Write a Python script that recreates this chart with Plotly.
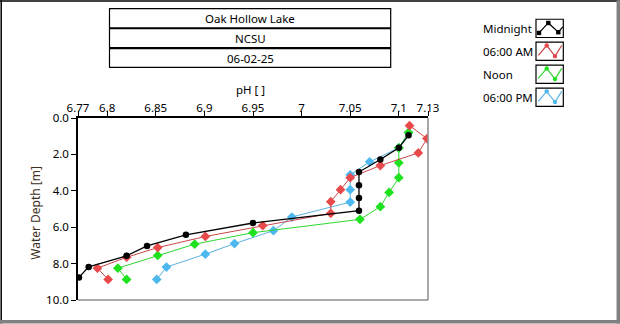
import plotly.graph_objects as go

# pH profiles by depth, one list per sampling time
midnight_ph = [7.110, 7.100, 7.081, 7.059, 7.059, 7.059, 7.059, 6.950, 6.881, 6.841, 6.820, 6.781, 6.771]
midnight_depth = [0.95, 1.64, 2.28, 2.97, 3.69, 4.40, 5.09, 5.77, 6.42, 7.03, 7.57, 8.18, 8.76]

am6_ph = [7.111, 7.129, 7.120, 7.081, 7.050, 7.040, 7.030, 7.030, 6.960, 6.901, 6.852, 6.820, 6.790, 6.801]
am6_depth = [0.42, 1.13, 1.92, 2.61, 3.28, 3.94, 4.60, 5.24, 5.91, 6.51, 7.12, 7.65, 8.25, 8.87]

noon_ph = [7.110, 7.100, 7.100, 7.100, 7.090, 7.081, 7.060, 6.950, 6.890, 6.852, 6.811, 6.820]
noon_depth = [0.80, 1.64, 2.46, 3.28, 4.09, 4.87, 5.57, 6.30, 6.93, 7.55, 8.25, 8.87]

pm6_ph = [7.110, 7.100, 7.070, 7.050, 7.050, 7.050, 6.990, 6.971, 6.931, 6.901, 6.861, 6.851]
pm6_depth = [0.80, 1.64, 2.41, 3.12, 3.94, 4.62, 5.44, 6.19, 6.90, 7.48, 8.19, 8.87]

x_ticks = [6.77, 6.8, 6.85, 6.9, 6.95, 7.0, 7.05, 7.1, 7.13]
x_tick_text = ["6.77", "6.8", "6.85", "6.9", "6.95", "7", "7.05", "7.1", "7.13"]
y_ticks = [0, 2, 4, 6, 8, 10]

title_rows = ["Oak Hollow Lake", "NCSU", "06-02-25"]
series_names = ["Midnight", "06:00 AM", "Noon", "06:00 PM"]

FONT = "Noto Sans"
FS = 11.5
W, H = 620, 324
PL, PR, PT, PB = 78, 428, 118, 300.5  # plot box in pixels

RED_LINE, RED_MK = "#c9474a", "#e8494b"
GRN_LINE, GRN_MK = "#2fd62f", "#1ee21e"
BLU_LINE, BLU_MK = "#5ab3e2", "#4db8ee"

series = [
    (series_names[0], midnight_ph, midnight_depth, "black", "black", "circle", 6.5, 1.3),
    (series_names[1], am6_ph, am6_depth, RED_LINE, RED_MK, "diamond", 7.5, 1),
    (series_names[2], noon_ph, noon_depth, GRN_LINE, GRN_MK, "diamond", 7.5, 1),
    (series_names[3], pm6_ph, pm6_depth, BLU_LINE, BLU_MK, "diamond", 7.5, 1),
]

fig = go.Figure()
for name, xs, ys, lc, mc, sym, ms, lw in reversed(series):
    fig.add_trace(go.Scatter(
        x=xs, y=ys, name=name, mode="lines+markers",
        line=dict(color=lc, width=lw),
        marker=dict(color=mc, symbol=sym, size=ms, line=dict(width=0)),
        showlegend=False, hoverinfo="x+y+name",
    ))


def px(x):
    return (x - PL) / (PR - PL)


def py(y):
    return (PB - y) / (PB - PT)


shapes = []
annotations = []

# plot frame: dark top/left, grey bottom/right
shapes.append(dict(type="line", xref="paper", yref="paper", x0=px(PR), x1=px(PR), y0=py(PT), y1=py(PB),
                   line=dict(color="#8c8c8c", width=1.5)))
shapes.append(dict(type="line", xref="paper", yref="paper", x0=px(PL), x1=px(PR), y0=py(PB), y1=py(PB),
                   line=dict(color="#8c8c8c", width=1.5)))

# window border
shapes.append(dict(type="line", xref="paper", yref="paper", x0=px(0), x1=px(W), y0=py(0.7), y1=py(0.7),
                   line=dict(color="black", width=1.5)))
shapes.append(dict(type="line", xref="paper", yref="paper", x0=px(1.2), x1=px(1.2), y0=py(0), y1=py(H),
                   line=dict(color="black", width=1.5)))
shapes.append(dict(type="line", xref="paper", yref="paper", x0=px(618.3), x1=px(618.3), y0=py(0), y1=py(H),
                   line=dict(color="#808080", width=3.5)))
shapes.append(dict(type="line", xref="paper", yref="paper", x0=px(0), x1=px(W), y0=py(322.3), y1=py(322.3),
                   line=dict(color="#808080", width=3.5)))

# title table
tx0, tx1, ty0, ty1 = 109.5, 390.7, 8.3, 67.3
shapes.append(dict(type="rect", xref="paper", yref="paper", x0=px(tx0), x1=px(tx1), y0=py(ty0), y1=py(ty1),
                   line=dict(color="black", width=1.2)))
for yy in (28, 48):
    shapes.append(dict(type="line", xref="paper", yref="paper", x0=px(tx0), x1=px(tx1), y0=py(yy), y1=py(yy),
                       line=dict(color="black", width=2.2)))
for i, txt in enumerate(title_rows):
    annotations.append(dict(text=txt, xref="paper", yref="paper", x=px(250), y=py(18.3 + 20 * i),
                            showarrow=False, xanchor="center", yanchor="middle",
                            font=dict(family=FONT, size=FS, color="black")))

# custom legend: label on the left, boxed glyph on the right
leg_styles = [("black", "black", "square"), (RED_LINE, RED_MK, "dot"),
              (GRN_LINE, GRN_MK, "dot"), (BLU_LINE, BLU_MK, "dot")]
for i, (name, (lc, mc, kind)) in enumerate(zip(series_names, leg_styles)):
    dy = 23 * i
    top = 19 + dy
    annotations.append(dict(text=name, xref="paper", yref="paper", x=px(481), y=py(top + 9.2),
                            showarrow=False, xanchor="left", yanchor="middle",
                            font=dict(family=FONT, size=FS, color="black")))
    shapes.append(dict(type="rect", xref="paper", yref="paper", x0=px(536), x1=px(563.3),
                       y0=py(top), y1=py(top + 18.3), line=dict(color="black", width=1.2)))
    if kind == "square":
        pts = [(539, top + 13.7), (548.3, top + 3.7), (558.3, top + 13), (562.7, top + 7.7)]
        mpts = pts[:3]
    else:
        pts = [(538.3, top + 13.3), (546.7, top + 3.3), (555, top + 14), (561.7, top + 3.3)]
        mpts = [pts[1], pts[2]]
    path = "M " + " L ".join(f"{px(a):.5f},{py(b):.5f}" for a, b in pts)
    shapes.append(dict(type="path", xref="paper", yref="paper", path=path,
                       line=dict(color=lc, width=1.2)))
    for a, b in mpts:
        r = 2.2
        shapes.append(dict(type="rect" if kind == "square" else "circle", xref="paper", yref="paper",
                           x0=px(a - r), x1=px(a + r), y0=py(b + r), y1=py(b - r),
                           fillcolor=mc, line=dict(color=mc, width=0)))

# axis titles
annotations.append(dict(text="pH [ ]", xref="paper", yref="paper", x=px(250), y=py(89),
                        showarrow=False, xanchor="center", yanchor="middle",
                        font=dict(family=FONT, size=FS, color="black")))
annotations.append(dict(text="Water Depth [m]", xref="paper", yref="paper", x=px(36), y=py(213),
                        showarrow=False, xanchor="center", yanchor="middle", textangle=-90,
                        font=dict(family=FONT, size=12, color="#3d2e22")))

fig.update_layout(
    width=W, height=H,
    margin=dict(l=PL, r=W - PR, t=PT, b=H - PB, pad=0),
    paper_bgcolor="white", plot_bgcolor="white",
    font=dict(family=FONT, size=FS, color="black"),
    shapes=shapes, annotations=annotations,
    xaxis=dict(side="top", range=[6.77, 7.13], tickvals=x_ticks, ticktext=x_tick_text,
               ticks="outside", ticklen=5, tickcolor="black", tickwidth=1,
               ticklabelstandoff=-5,
               showgrid=False, zeroline=False, showline=True, linecolor="black", linewidth=1.5,
               tickfont=dict(family=FONT, size=FS, color="black")),
    yaxis=dict(range=[10, 0], tickvals=y_ticks, tickformat=".1f",
               ticks="outside", ticklen=5, tickcolor="black", tickwidth=1,
               showgrid=False, zeroline=False, showline=True, linecolor="black", linewidth=1.5,
               tickfont=dict(family=FONT, size=FS, color="black")),
    showlegend=False,
)

fig.write_html("out.html")
